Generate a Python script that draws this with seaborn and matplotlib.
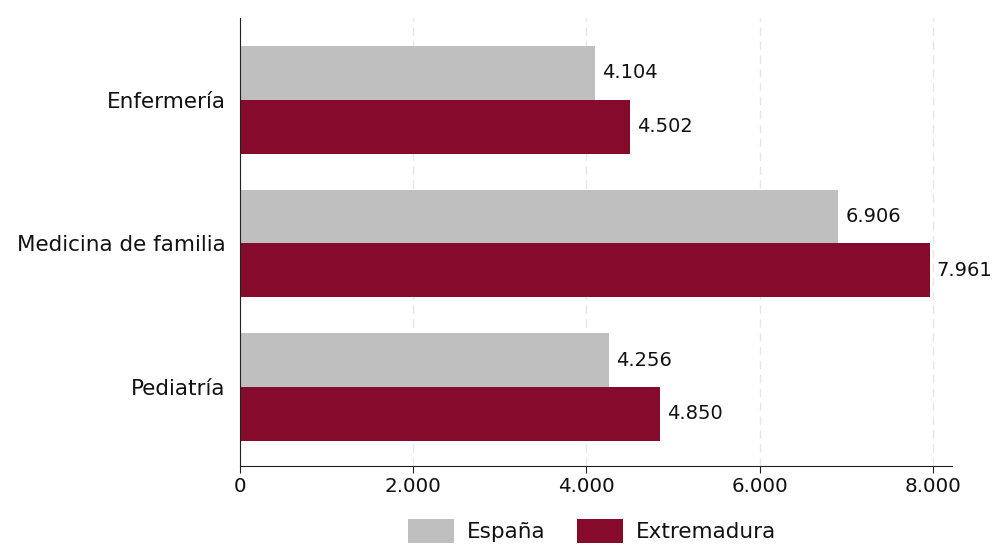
import matplotlib
matplotlib.use("Agg")
import matplotlib.pyplot as plt
import matplotlib.ticker as mticker
import seaborn as sns
import pandas as pd

categorias = ["Enfermería", "Medicina de familia", "Pediatría"]
espana = [4104, 6906, 4256]
extremadura = [4502, 7961, 4850]
series = ["España", "Extremadura"]
colores = ["#BFBFBF", "#850A2B"]

df = pd.DataFrame({
    "categoria": categorias * 2,
    "valor": espana + extremadura,
    "serie": [series[0]] * len(categorias) + [series[1]] * len(categorias),
})

sns.set_style("white")
plt.rcParams["font.family"] = ["DejaVu Sans"]

fig = plt.figure(figsize=(9.92, 5.44), dpi=100)
ax = fig.add_axes([240 / 992, 1 - 466 / 544, 712 / 992, 448 / 544])

sns.barplot(data=df, y="categoria", x="valor", hue="serie", orient="h",
            palette=colores, width=0.75, saturation=1, ax=ax, legend=True,
            linewidth=0, edgecolor="none")

def fmt(v, pos=None):
    return f"{int(round(v)):,}".replace(",", ".")

for cont in ax.containers:
    labels = [fmt(b.get_width()) for b in cont]
    ax.bar_label(cont, labels=labels, padding=5, fontsize=14, color="#111111")

ax.set_xlim(0, 8220)
ax.set_ylim(2.55, -0.57)
ax.set_xticks([0, 2000, 4000, 6000, 8000])
ax.xaxis.set_major_formatter(mticker.FuncFormatter(fmt))
ax.grid(axis="x", color="#e6e6e6", linestyle=(0, (6, 4)), linewidth=1)
ax.set_axisbelow(True)
ax.set_xlabel("")
ax.set_ylabel("")

for s in ["top", "right"]:
    ax.spines[s].set_visible(False)
ax.spines["left"].set_color("#222222")
ax.spines["bottom"].set_color("#222222")
ax.tick_params(axis="x", bottom=True, length=5, color="#222222", labelsize=14.3,
               labelcolor="#111111", pad=3)
ax.tick_params(axis="y", left=False, labelsize=15.5, labelcolor="#111111", pad=7)

handles, labels = ax.get_legend_handles_labels()
ax.get_legend().remove()
fig.legend(handles, labels, loc="center", bbox_to_anchor=(592 / 992, 1 - 531 / 544),
           ncol=2, frameon=False, fontsize=15.5, handlelength=2.1, handleheight=1.3,
           columnspacing=1.5, handletextpad=0.6, labelcolor="#111111")

fig.savefig("out.png", dpi=100)
